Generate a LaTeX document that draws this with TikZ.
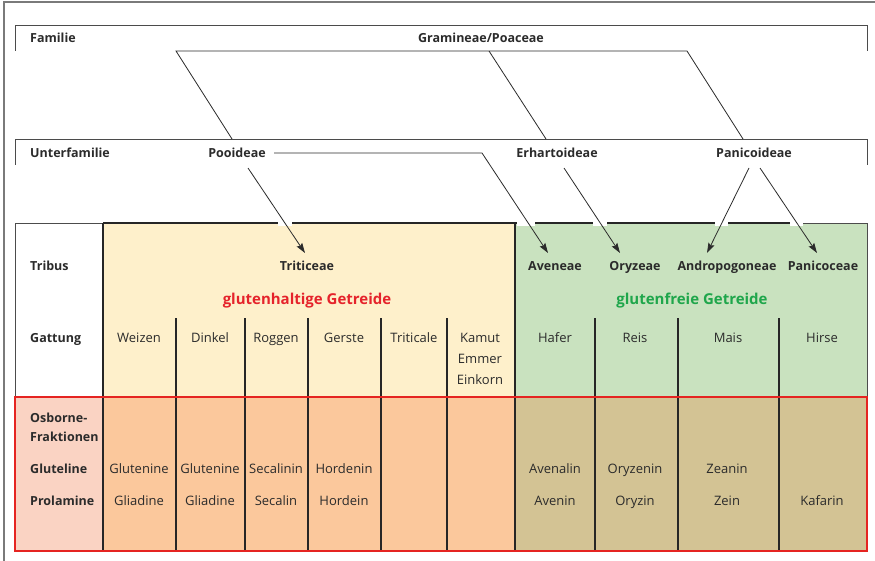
\documentclass[tikz,border=0pt]{standalone}
\usepackage{fontspec}
\setmainfont{Open Sans}
\usetikzlibrary{arrows.meta,calc}
\definecolor{txt}{HTML}{2B2B2B}
\definecolor{yellowbg}{HTML}{FEF0CB}
\definecolor{greenbg}{HTML}{C9E2BF}
\definecolor{pinkbg}{HTML}{FAD3C3}
\definecolor{orangebg}{HTML}{FBC89C}
\definecolor{tanbg}{HTML}{D3C394}
\definecolor{redline}{HTML}{E52421}
\definecolor{redtxt}{HTML}{E5232B}
\definecolor{greentxt}{HTML}{1FA64B}
\definecolor{framegray}{HTML}{7A7A7A}
\begin{document}
\begin{tikzpicture}[x=1pt,y=-1pt,
  every node/.style={inner sep=0pt,text=txt},
  lab/.style={anchor=base west,font=\bfseries\fontsize{12.5}{15}\selectfont},
  hd/.style={anchor=base,font=\bfseries\fontsize{12.5}{15}\selectfont},
  cell/.style={anchor=base,font=\fontsize{13}{15}\selectfont},
  big/.style={anchor=base,font=\bfseries\fontsize{15}{18}\selectfont},
  conn/.style={draw=txt,line width=0.8pt},
  arr/.style={conn,-{Stealth[length=10pt,width=6.5pt,inset=1.5pt]}},
  divider/.style={draw=black!85,line width=1.4pt},
  brk/.style={draw=txt!85,line width=0.8pt}]
\useasboundingbox (0,0) rectangle (875,561);
\fill[white] (0,0) rectangle (875,561);
% backgrounds
\fill[yellowbg] (103,223) rectangle (515,397);
\fill[greenbg] (515,223) rectangle (867,397);
\fill[pinkbg] (15,397) rectangle (103,551);
\fill[orangebg] (103,397) rectangle (515,551);
\fill[tanbg] (515,397) rectangle (867,551);
% outer frame
\draw[framegray,line width=1.3pt] (4,561) -- (4,2) -- (875,2);
% brackets
\draw[brk] (15,51) -- (15,25) -- (867,25) -- (867,51);
\draw[brk] (15,165) -- (15,139) -- (867,139) -- (867,165);
% table lines
\draw[black!70,line width=0.8pt] (15,397) -- (15,223) -- (103,223);
\draw[black!70,line width=0.8pt] (803,223) -- (867,223) -- (867,397);
\draw[divider] (103,223) -- (803,223);
\draw[divider] (103,223) -- (103,551);
\draw[divider] (515,223) -- (515,551);
\foreach \x in {176,245,308,381,447,595,678,779}
  \draw[divider] (\x,318) -- (\x,551);
\draw[redline,line width=2pt] (15,397) rectangle (867,551);
% gaps where connectors cross the top border
\foreach \a/\b in {278/292,517/535,593/607,715/728,790/803}
  \fill[white] (\a,220) rectangle (\b,226.5);

% texts (baselines)
\node[lab] (fam) at (30,43) {Familie};
\node[hd] (gram) at (481,43) {Gramineae/Poaceae};
\node[lab] (ufam) at (30,158) {Unterfamilie};
\node[hd] (pooi) at (237,158) {Pooideae};
\node[hd] (erha) at (557,158) {Erhartoideae};
\node[hd] (pani) at (754,158) {Panicoideae};

\node[lab] (trib) at (30,271) {Tribus};
\node[hd] (trit) at (307,271) {Triticeae};
\node[hd] (aven) at (555,271) {Aveneae};
\node[hd] (oryz) at (635,271) {Oryzeae};
\node[hd] (andr) at (727,271) {Andropogoneae};
\node[hd] (panc) at (823,271) {Panicoceae};
\node[big,text=redtxt] (gh) at (307,305) {glutenhaltige Getreide};
\node[big,text=greentxt] (gf) at (692,305) {glutenfreie Getreide};

\node[lab] (gatt) at (30,342) {Gattung};
\node[cell] (weiz) at (139,342) {Weizen};
\node[cell] (dink) at (210,342) {Dinkel};
\node[cell] (rogg) at (276,342) {Roggen};
\node[cell] (gers) at (344,342) {Gerste};
\node[cell] (trca) at (414,342) {Triticale};
\node[cell,anchor=base] (kam1) at (480,342) {Kamut};
\node[cell,anchor=base] (kam2) at (480,363) {Emmer};
\node[cell,anchor=base] (kam3) at (480,384) {Einkorn};
\node[cell] (hafe) at (555,342) {Hafer};
\node[cell] (reis) at (635,342) {Reis};
\node[cell] (mais) at (728,342) {Mais};
\node[cell] (hirs) at (822,342) {Hirse};

\node[lab] (osb1) at (30,422) {Osborne-};
\node[lab] (osb2) at (30,441) {Fraktionen};
\node[lab] (glut) at (30,473) {Gluteline};
\node[lab] (prol) at (30,505) {Prolamine};

\node[cell] (g1) at (139,473) {Glutenine};
\node[cell] (g2) at (210,473) {Glutenine};
\node[cell] (g3) at (276,473) {Secalinin};
\node[cell] (g4) at (344,473) {Hordenin};
\node[cell] (g5) at (555,473) {Avenalin};
\node[cell] (g6) at (635,473) {Oryzenin};
\node[cell] (g7) at (727,473) {Zeanin};
\node[cell] (p1) at (139,505) {Gliadine};
\node[cell] (p2) at (210,505) {Gliadine};
\node[cell] (p3) at (276,505) {Secalin};
\node[cell] (p4) at (344,505) {Hordein};
\node[cell] (p5) at (555,505) {Avenin};
\node[cell] (p6) at (635,505) {Oryzin};
\node[cell] (p7) at (727,505) {Zein};
\node[cell] (p8) at (822,505) {Kafarin};

% family tree
\draw[conn] ($(pooi.base)+(-5,-19)$) -- ($(gram.base)+(-305,8)$) -- ($(gram.base)+(206,8)$) -- ($(pani.base)+(-11,-19)$);
\draw[conn] ($(gram.base)+(8,8)$) -- ($(erha.base)+(-11,-19)$);
% arrows
\draw[arr] ($(pooi.base)+(11,10)$) -- ($(trit.base)+(-2,-18)$);
\draw[arr] ($(pooi.base)+(37,-5)$) -- ($(pooi.base)+(245,-5)$) -- ($(aven.base)+(-7,-18)$);
\draw[arr] ($(erha.base)+(7,10)$) -- ($(oryz.base)+(-15,-18)$);
\draw[arr] ($(pani.base)+(-5,10)$) -- ($(andr.base)+(-20,-18)$);
\draw[arr] ($(pani.base)+(6,10)$) -- ($(panc.base)+(-6,-18)$);
\end{tikzpicture}
\end{document}
